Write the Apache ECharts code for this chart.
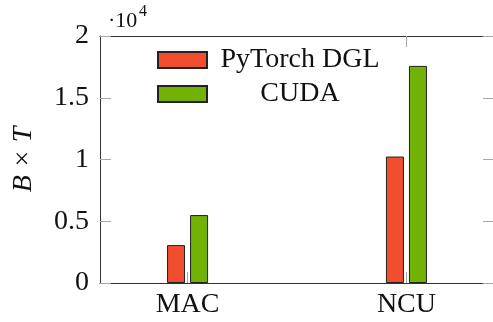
<!DOCTYPE html>
<html>
<head>
<meta charset="utf-8">
<script src="https://cdn.jsdelivr.net/npm/echarts@6/dist/echarts.min.js"></script>
<style>
  html, body { margin: 0; padding: 0; background: #fff; }
  #chart { width: 493px; height: 322px; }
</style>
</head>
<body>
<div id="chart"></div>
<script>
// categories sit at fixed spots on a value axis (0..9) so the spacing matches
var categories = ['MAC', 'NCU'];
var categoryPos = [2, 7];
var pytorchDgl = [3070, 10240];
var cuda = [5500, 17580];

var serif = 'Liberation Serif';
var frame = '#333';
var tickGrey = '#a8a8a8';

function pairs(vals) {
    return vals.map(function (v, i) { return [categoryPos[i], v]; });
}

var myChart = echarts.init(document.getElementById('chart'));
myChart.setOption({
    animation: false,
    grid: { left: 100, top: 36, right: -1, bottom: 39, outerBoundsMode: 'none' },
    legend: {
        orient: 'vertical',
        left: 157,
        top: 46,
        padding: 0,
        icon: 'rect',
        itemWidth: 49,
        itemHeight: 16,
        itemGap: 6,
        data: ['PyTorch DGL', 'CUDA'],
        formatter: '{c|{name}}',
        textStyle: {
            fontFamily: serif, fontSize: 28, color: '#111',
            rich: { c: { fontFamily: serif, fontSize: 28, color: '#111', width: 176, align: 'center', lineHeight: 30 } }
        }
    },
    xAxis: [
        {
            type: 'value', min: 0, max: 9,
            splitLine: { show: false },
            axisLine: { lineStyle: { color: frame, width: 1 } },
            axisTick: { inside: true, length: 11, customValues: categoryPos, lineStyle: { color: tickGrey } },
            axisLabel: {
                customValues: categoryPos,
                margin: 8,
                fontFamily: serif, fontSize: 28, color: '#111',
                formatter: function (v) {
                    var i = categoryPos.indexOf(v);
                    return i >= 0 ? categories[i] : '';
                }
            }
        },
        {
            type: 'value', min: 0, max: 9, position: 'top',
            splitLine: { show: false },
            axisLine: { onZero: false, lineStyle: { color: frame, width: 1 } },
            axisTick: { inside: true, length: 11, customValues: [categoryPos[1]], lineStyle: { color: tickGrey } },
            axisLabel: { show: false }
        }
    ],
    yAxis: [
        {
            type: 'value', min: 0, max: 20000, interval: 5000,
            name: 'B × T',
            nameLocation: 'middle',
            nameGap: 62,
            nameRotate: 90,
            nameTextStyle: { fontFamily: serif, fontSize: 28, fontStyle: 'italic', color: '#111' },
            splitLine: { show: false },
            axisLine: { show: true, lineStyle: { color: frame, width: 1 } },
            axisTick: { inside: true, length: 11, lineStyle: { color: tickGrey } },
            axisLabel: {
                margin: 11,
                fontFamily: serif, fontSize: 28, color: '#111',
                formatter: function (v) { return String(v / 10000); }
            }
        },
        {
            type: 'value', min: 0, max: 20000, interval: 5000, position: 'right',
            splitLine: { show: false },
            axisLine: { show: true, onZero: false, lineStyle: { color: frame, width: 1 } },
            axisTick: { inside: true, length: 11, lineStyle: { color: tickGrey } },
            axisLabel: { show: false }
        }
    ],
    graphic: [
        {
            type: 'text', left: 108, top: 10,
            style: { text: '·10', fontFamily: serif, fontSize: 22, fill: '#111' }
        },
        {
            type: 'text', left: 139, top: 4,
            style: { text: '4', fontFamily: serif, fontSize: 16, fill: '#111' }
        }
    ],
    series: [
        {
            name: 'PyTorch DGL',
            type: 'bar',
            barWidth: 18,
            barGap: '28%',
            itemStyle: { color: '#f04e2e', borderColor: '#222', borderWidth: 1 },
            data: pairs(pytorchDgl)
        },
        {
            name: 'CUDA',
            type: 'bar',
            barWidth: 18,
            barGap: '28%',
            itemStyle: { color: '#72b204', borderColor: '#222', borderWidth: 1 },
            data: pairs(cuda)
        }
    ]
});
</script>
</body>
</html>
